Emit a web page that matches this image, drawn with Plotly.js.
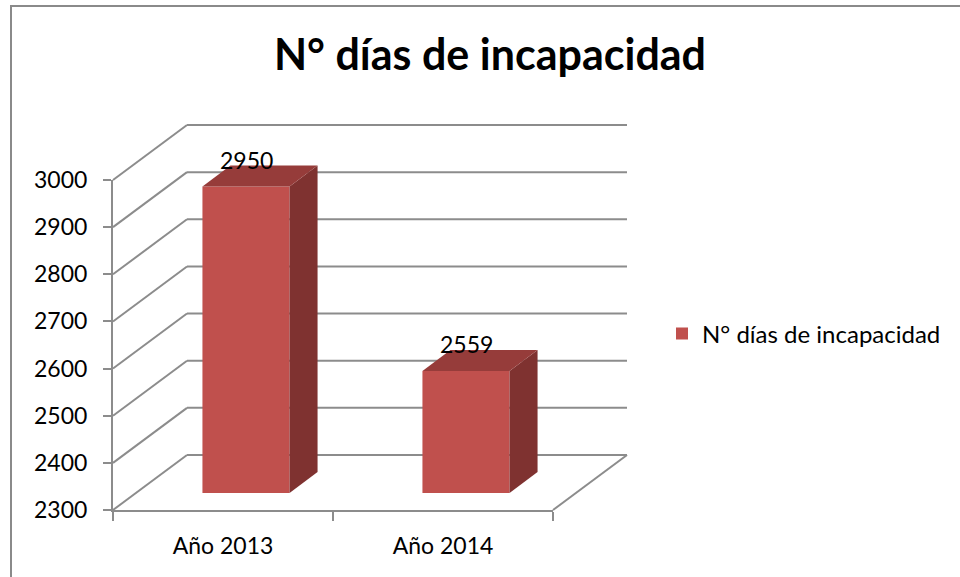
<!DOCTYPE html>
<html>
<head>
<meta charset="utf-8">
<script src="https://cdn.plot.ly/plotly-3.0.1.min.js"></script>
<style>html,body{margin:0;padding:0;background:#fff;}#chart{width:960px;height:577px;}</style>
</head>
<body>
<div id="chart"></div>
<script>
// ---- data ----
const categories = ["Año 2013", "Año 2014"];
const values = [2950, 2559];
const seriesName = "N° días de incapacidad";
const yTicks = [2300, 2400, 2500, 2600, 2700, 2800, 2900, 3000];
const chartTitle = "N° días de incapacidad";

// ---- layout geometry (pixels) ----
const W = 960, H = 577;
const FX0 = 113, FX1 = 553, FY0 = 510, FY1 = 180;   // front plane
const BAR_DX = 23, BAR_DY = -17;                    // plane of bar front faces
const BACK_DX = 74, BACK_DY = -55;                  // back wall
const YMIN = 2300, YMAX = 3000;
const px = x => x / W;
const py = y => 1 - y / H;
const yPix = v => FY0 - (v - YMIN) * (FY0 - FY1) / (YMAX - YMIN);

const FONT = "Lato, 'Open Sans', sans-serif";
const GRID = "#8c8c8c";
const RED = "#c0504d", RED_SIDE = "#7f3230", RED_TOP = "#963c3a";

// bar depth converted into data units of the bar plane
const catPx = (FX1 - FX0) / categories.length;
const depthX = 28 / catPx;
const depthY = 21 * (YMAX - YMIN) / (FY0 - FY1);
const halfW = 0.198;
const xs = categories.map((c, i) => i);

const traces = [];
values.forEach((v, i) => {
  const x = xs[i] + halfW;
  traces.push({
    type: "scatter", mode: "lines", xaxis: "x2", yaxis: "y2",
    x: [x, x + depthX, x + depthX, x, x],
    y: [YMIN, YMIN + depthY, v + depthY, v, YMIN],
    fill: "toself", fillcolor: RED_SIDE, line: {width: 0, color: RED_SIDE},
    showlegend: false, hoverinfo: "skip"
  });
  const xl = xs[i] - halfW;
  traces.push({
    type: "scatter", mode: "lines", xaxis: "x2", yaxis: "y2",
    x: [xl, xl + depthX, x + depthX, x, xl],
    y: [v, v + depthY, v + depthY, v, v],
    fill: "toself", fillcolor: RED_TOP, line: {width: 0, color: RED_TOP},
    showlegend: false, hoverinfo: "skip"
  });
});
traces.push({
  type: "bar", xaxis: "x2", yaxis: "y2",
  x: xs, y: values.map(v => v - YMIN), base: YMIN,
  width: halfW * 2, name: seriesName,
  marker: {color: RED, line: {width: 0}},
  hoverinfo: "y"
});
traces.push({
  type: "scatter", mode: "markers", x: categories, y: [YMIN, YMIN],
  marker: {opacity: 0}, showlegend: false, hoverinfo: "skip"
});

// ---- wall shapes ----
const shapes = [];
const line = {color: GRID, width: 2};
yTicks.forEach(v => {
  const y = yPix(v);
  shapes.push({type: "line", xref: "paper", yref: "paper", layer: "below",
    x0: px(FX0), y0: py(y), x1: px(FX0 + BACK_DX), y1: py(y + BACK_DY), line});
  shapes.push({type: "line", xref: "paper", yref: "paper", layer: "below",
    x0: px(FX0 + BACK_DX), y0: py(y + BACK_DY), x1: px(FX1 + BACK_DX), y1: py(y + BACK_DY), line});
});
shapes.push({type: "line", xref: "paper", yref: "paper", layer: "below",
  x0: px(FX1), y0: py(FY0), x1: px(FX1 + BACK_DX), y1: py(FY0 + BACK_DY), line});
shapes.push({type: "line", xref: "paper", yref: "paper", x0: px(11), y0: py(6), x1: px(11), y1: 0, line: {color: "#8a8a8a", width: 2}});
shapes.push({type: "line", xref: "paper", yref: "paper", x0: px(10), y0: py(6), x1: 1, y1: py(6), line: {color: "#8a8a8a", width: 2}});

const annotations = values.map((v, i) => ({
  x: xs[i], y: v, xref: "x2", yref: "y2", text: String(v),
  showarrow: false, yshift: 27, font: {family: FONT, size: 23, color: "#000"}
}));

const layout = {
  width: W, height: H,
  margin: {l: 0, r: 0, t: 0, b: 0},
  paper_bgcolor: "#fff", plot_bgcolor: "rgba(0,0,0,0)",
  title: {text: chartTitle, font: {family: FONT, size: 43, color: "#000", weight: "bold"},
          x: px(490), xanchor: "center", y: py(55), yanchor: "middle", xref: "paper", yref: "paper"},
  font: {family: FONT, size: 23, color: "#000"},
  xaxis: {type: "category", domain: [px(FX0), px(FX1)], range: [-0.5, 1.5],
          showline: true, linecolor: GRID, linewidth: 2,
          ticks: "outside", ticklen: 9, tickwidth: 2, tickcolor: GRID, tickson: "boundaries",
          showgrid: false, zeroline: false, fixedrange: true,
          tickfont: {family: FONT, size: 23, color: "#000"}, ticklabelstandoff: 14},
  yaxis: {domain: [py(FY0), py(FY1)], range: [YMIN, YMAX], tickvals: yTicks,
          showline: true, linecolor: GRID, linewidth: 2,
          ticks: "outside", ticklen: 8, tickwidth: 2, tickcolor: GRID,
          showgrid: false, zeroline: false, fixedrange: true,
          tickfont: {family: FONT, size: 23, color: "#000"}, ticklabelstandoff: 11},
  xaxis2: {domain: [px(FX0 + BAR_DX), px(FX1 + BAR_DX)], range: [-0.5, 1.5], anchor: "y2", visible: false, fixedrange: true},
  yaxis2: {domain: [py(FY0 + BAR_DY), py(FY1 + BAR_DY)], range: [YMIN, YMAX], anchor: "x2", visible: false, fixedrange: true},
  showlegend: true,
  legend: {x: px(662), xanchor: "left", y: py(334), yanchor: "middle",
           font: {family: FONT, size: 24, color: "#000"}, bgcolor: "rgba(0,0,0,0)"},
  shapes, annotations
};

Plotly.newPlot("chart", traces, layout, {displayModeBar: false, staticPlot: true});
</script>
</body>
</html>
